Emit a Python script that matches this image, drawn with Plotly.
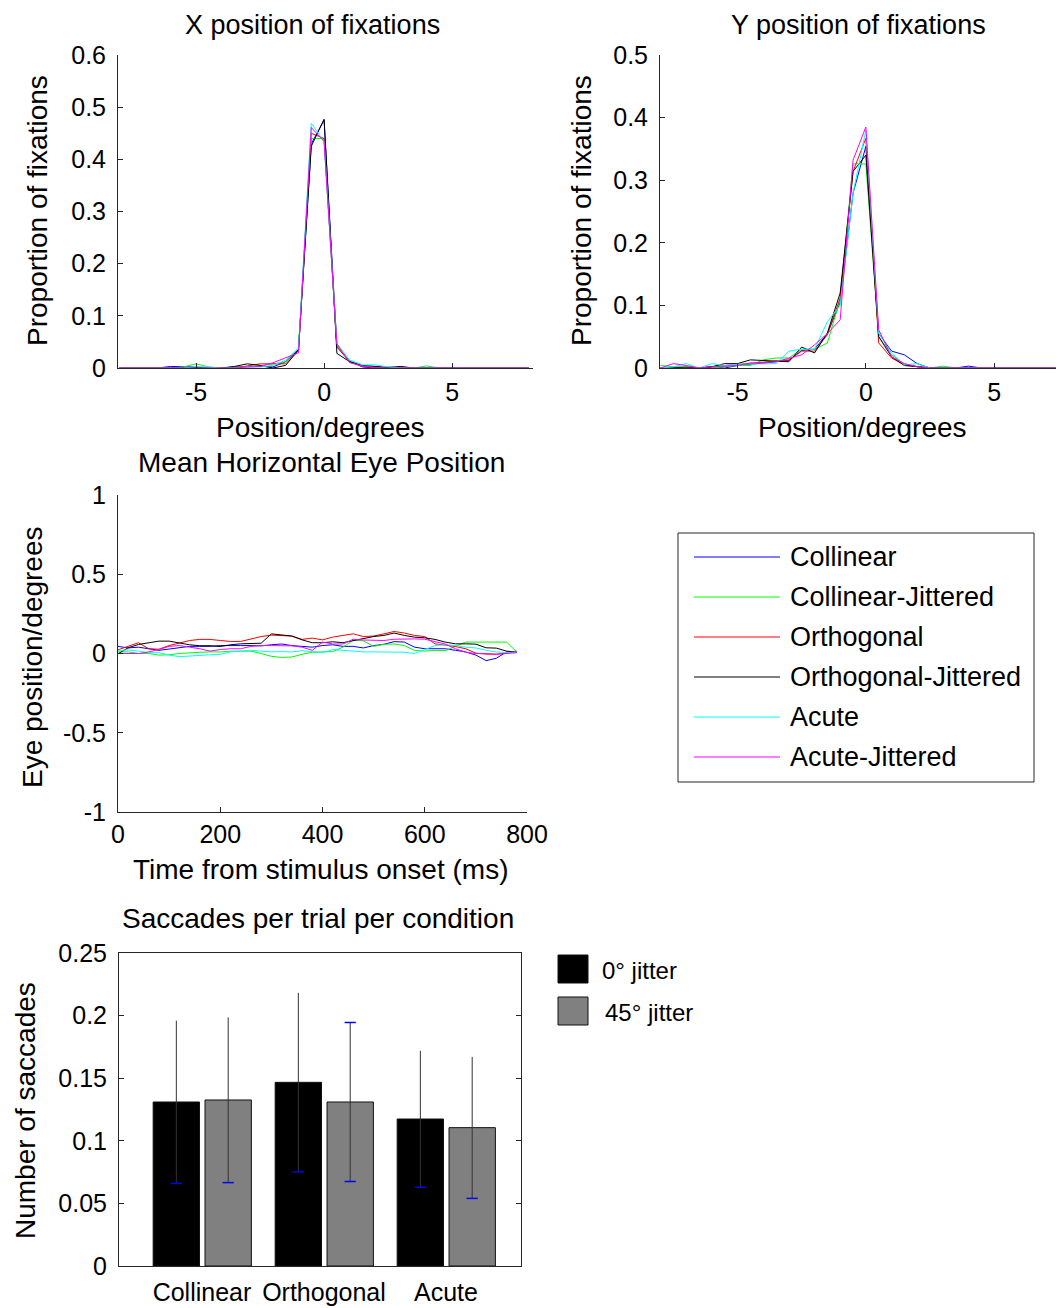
import plotly.graph_objects as go

W, H = 1064, 1308
FONT = "Liberation Sans, Arial, sans-serif"

# ---------------- data ----------------
names = ["Collinear", "Collinear-Jittered", "Orthogonal", "Orthogonal-Jittered", "Acute", "Acute-Jittered"]
colors = ["#0000FF", "#00FF00", "#FF0000", "#000000", "#00FFFF", "#FF00FF"]

pos_deg = [-8, -7.5, -7, -6.5, -6, -5.5, -5, -4.5, -4, -3.5, -3, -2.5, -2, -1.5, -1, -0.5,
           0, 0.5, 1, 1.5, 2, 2.5, 3, 3.5, 4, 4.5, 5, 5.5, 6, 6.5, 7, 7.5, 8]

xfix_collinear = [0, 0, 0, 0, 0.003, 0.003, 0.002, 0, 0, 0.002, 0.003, 0.003, 0.002, 0.012, 0.035, 0.43,
                  0.475, 0.042, 0.013, 0.002, 0, 0, 0, 0, 0, 0, 0, 0, 0, 0, 0, 0, 0]
xfix_collinear_j = [0, 0, 0, 0, 0, 0.002, 0.008, 0.002, 0, 0.002, 0.003, 0.004, 0.008, 0.012, 0.038, 0.44,
                    0.44, 0.042, 0.014, 0.005, 0.003, 0.002, 0.001, 0, 0.004, 0, 0, 0, 0, 0, 0, 0, 0]
xfix_orthogonal = [0, 0, 0, 0, 0, 0, 0, 0, 0, 0, 0.004, 0.008, 0.008, 0.008, 0.033, 0.45,
                   0.44, 0.04, 0.012, 0.003, 0.001, 0, 0, 0, 0, 0, 0, 0, 0, 0, 0, 0, 0]
xfix_orthogonal_j = [0, 0, 0, 0, 0, 0, 0, 0, 0, 0.003, 0.008, 0.005, 0, 0.005, 0.035, 0.425,
                     0.477, 0.028, 0.012, 0.005, 0.003, 0.001, 0.003, 0, 0, 0, 0, 0, 0, 0, 0, 0, 0]
xfix_acute = [0, 0, 0, 0, 0, 0, 0.003, 0.001, 0, 0, 0.002, 0.002, 0.005, 0.015, 0.038, 0.469,
              0.434, 0.047, 0.015, 0.006, 0.006, 0.002, 0, 0, 0, 0, 0, 0, 0, 0, 0, 0, 0]
xfix_acute_j = [0, 0, 0, 0, 0, 0, 0, 0, 0, 0, 0.002, 0.003, 0.01, 0.019, 0.029, 0.461,
                0.434, 0.046, 0.01, 0.004, 0.001, 0, 0, 0, 0, 0, 0, 0, 0, 0, 0, 0, 0]

yfix_collinear = [0, 0, 0.002, 0, 0.002, 0, 0.004, 0.006, 0.008, 0.009, 0.012, 0.028, 0.03, 0.055, 0.105, 0.279,
                  0.354, 0.055, 0.027, 0.021, 0.007, 0, 0, 0, 0.003, 0, 0, 0, 0, 0, 0, 0, 0]
yfix_collinear_j = [0.004, 0.002, 0.002, 0, 0, 0.002, 0.004, 0.004, 0.013, 0.016, 0.016, 0.03, 0.03, 0.04, 0.11, 0.326,
                    0.326, 0.05, 0.021, 0.006, 0.002, 0, 0.003, 0, 0, 0, 0, 0, 0, 0, 0, 0, 0]
yfix_orthogonal = [0, 0, 0, 0, 0.002, 0.004, 0.006, 0.008, 0.009, 0.012, 0.013, 0.027, 0.027, 0.053, 0.112, 0.314,
                   0.367, 0.04, 0.016, 0.005, 0.002, 0, 0, 0, 0, 0, 0, 0, 0, 0, 0, 0, 0]
yfix_orthogonal_j = [0, 0, 0, 0, 0.002, 0.007, 0.007, 0.013, 0.012, 0.011, 0.01, 0.0335, 0.024, 0.056, 0.12, 0.314,
                     0.34, 0.05, 0.018, 0.004, 0.002, 0, 0, 0, 0, 0, 0, 0, 0, 0, 0, 0, 0]
yfix_acute = [0, 0.002, 0.007, 0, 0.007, 0.004, 0.006, 0.006, 0.007, 0.007, 0.027, 0.03, 0.03, 0.074, 0.1, 0.279,
              0.38, 0.055, 0.024, 0.005, 0.007, 0, 0, 0, 0, 0, 0, 0, 0, 0, 0, 0, 0]
yfix_acute_j = [0, 0.007, 0.004, 0, 0.002, 0.003, 0.004, 0.008, 0.008, 0.01, 0.015, 0.021, 0.037, 0.055, 0.077, 0.332,
                0.385, 0.061, 0.018, 0.007, 0.002, 0, 0, 0, 0, 0, 0, 0, 0, 0, 0, 0, 0]

time_ms = [0, 20, 40, 60, 80, 100, 120, 140, 160, 180, 200, 220, 240, 260, 280, 300, 320, 340, 360, 380,
           400, 420, 440, 460, 480, 500, 520, 540, 560, 580, 600, 620, 640, 660, 680, 700, 720, 740, 760, 780]

eye_collinear = [0.045, 0.035, 0.04, 0.03, 0.02, 0.028, 0.038, 0.045, 0.045, 0.045, 0.05, 0.052, 0.05, 0.05, 0.048,
                 0.055, 0.06, 0.05, 0.045, 0.04, 0.05, 0.055, 0.045, 0.045, 0.035, 0.05, 0.058, 0.075, 0.072, 0.04,
                 0.03, 0.03, 0.03, 0.02, 0.01, -0.01, -0.045, -0.03, 0.01, 0.01]
eye_collinear_j = [0.01, 0.01, 0.0, 0.0, -0.01, -0.008, 0.0, 0.005, 0.008, 0.01, 0.01, 0.015, 0.015, 0.015, 0.0,
                   -0.018, -0.025, -0.022, -0.005, 0.008, 0.01, 0.012, 0.04, 0.085, 0.08, 0.045, 0.058, 0.06, 0.05,
                   0.02, 0.015, 0.02, 0.018, 0.045, 0.072, 0.072, 0.072, 0.072, 0.072, 0.01]
eye_orthogonal = [0.023, 0.044, 0.068, 0.03, 0.027, 0.05, 0.065, 0.082, 0.089, 0.089, 0.082, 0.076, 0.076, 0.09,
                  0.107, 0.116, 0.114, 0.11, 0.089, 0.097, 0.086, 0.103, 0.114, 0.124, 0.107, 0.11, 0.124, 0.139,
                  0.129, 0.114, 0.107, 0.061, 0.053, 0.044, 0.03, 0.002, -0.004, -0.004, 0.002, 0.015]
eye_orthogonal_j = [-0.002, 0.036, 0.057, 0.068, 0.078, 0.078, 0.065, 0.055, 0.049, 0.049, 0.044, 0.055, 0.061,
                    0.065, 0.065, 0.124, 0.118, 0.11, 0.086, 0.068, 0.068, 0.074, 0.068, 0.082, 0.097, 0.107, 0.114,
                    0.129, 0.114, 0.103, 0.099, 0.089, 0.072, 0.061, 0.061, 0.059, 0.036, 0.034, 0.015, 0.008]
eye_acute = [0.02, 0.022, 0.015, 0.005, 0.005, -0.01, -0.02, -0.015, -0.01, -0.008, -0.005, 0.01, 0.015, 0.02,
             0.015, 0.01, 0.012, 0.01, 0.018, 0.01, 0.005, 0.025, 0.02, 0.015, 0.01, 0.01, 0.008, 0.008, 0.008,
             0.0, 0.025, 0.05, 0.055, 0.05, 0.04, 0.035, 0.02, 0.01, 0.005, 0.01]
eye_acute_j = [0.0, 0.0, 0.0, 0.01, 0.025, 0.045, 0.05, 0.04, 0.03, 0.015, 0.025, 0.03, 0.03, 0.045, 0.05, 0.05,
               0.05, 0.048, 0.04, 0.02, 0.072, 0.06, 0.06, 0.09, 0.085, 0.082, 0.082, 0.09, 0.092, 0.092, 0.09,
               0.075, 0.06, 0.03, 0.008, 0.0, 0.0, -0.005, 0.0, 0.005]

xfix = [xfix_collinear, xfix_collinear_j, xfix_orthogonal, xfix_orthogonal_j, xfix_acute, xfix_acute_j]
yfix = [yfix_collinear, yfix_collinear_j, yfix_orthogonal, yfix_orthogonal_j, yfix_acute, yfix_acute_j]
eye = [eye_collinear, eye_collinear_j, eye_orthogonal, eye_orthogonal_j, eye_acute, eye_acute_j]

bar_categories = ["Collinear", "Orthogonal", "Acute"]
bar_pos = [1, 2, 3]
sacc_0_jitter = [0.131, 0.1467, 0.1174]
sacc_0_err = [0.065, 0.0715, 0.0545]
sacc_45_jitter = [0.1326, 0.131, 0.1105]
sacc_45_err = [0.066, 0.0635, 0.0565]
bar_legend = ["0° jitter", "45° jitter"]
bar_colors = ["#000000", "#808080"]

# ---------------- helpers ----------------
# the page body adds an 8px offset; layout positions below are given in reference pixels
OFF = 8

def px(x):
    return (x - OFF) / W

def py(y):
    return 1 - (y - OFF) / H

TICK = 25

def axstyle(**kw):
    d = dict(showgrid=False, zeroline=False, showline=True, linecolor="#262626", linewidth=1,
             ticks="inside", ticklen=5, tickcolor="#262626", tickwidth=1, automargin=False,
             tickfont=dict(size=TICK, color="black", family=FONT))
    d.update(kw)
    return d

fig = go.Figure()

for i in range(6):
    fig.add_trace(go.Scatter(x=pos_deg, y=xfix[i], mode="lines", line=dict(color=colors[i], width=1),
                             name=names[i], showlegend=False, xaxis="x", yaxis="y"))
for i in range(6):
    fig.add_trace(go.Scatter(x=pos_deg, y=yfix[i], mode="lines", line=dict(color=colors[i], width=1),
                             name=names[i], showlegend=False, xaxis="x2", yaxis="y2"))
for i in range(6):
    fig.add_trace(go.Scatter(x=time_ms, y=eye[i], mode="lines", line=dict(color=colors[i], width=1),
                             name=names[i], showlegend=False, xaxis="x3", yaxis="y3"))

BW = 0.38
offsets = [-0.40, 0.025]
means = [sacc_0_jitter, sacc_45_jitter]
errs = [sacc_0_err, sacc_45_err]
for k in range(2):
    fig.add_trace(go.Bar(x=bar_pos, y=means[k], width=BW, offset=offsets[k], name=bar_legend[k],
                         marker=dict(color=bar_colors[k], line=dict(color="#111111", width=1)),
                         error_y=dict(type="data", array=errs[k], color="#333333", thickness=1, width=0),
                         showlegend=False, xaxis="x4", yaxis="y4"))
# blue caps of the error bars
top_cap = [[False, False, False], [False, True, False]]
for k in range(2):
    cx = [p + offsets[k] + BW / 2 for p in bar_pos]
    lo = [m - e for m, e in zip(means[k], errs[k])]
    fig.add_trace(go.Scatter(x=cx, y=lo, mode="markers",
                             marker=dict(symbol="line-ew", size=8, line=dict(color="#0000FF", width=1.5)),
                             showlegend=False, hoverinfo="skip", xaxis="x4", yaxis="y4"))
    hx = [c for c, t in zip(cx, top_cap[k]) if t]
    hy = [m + e for m, e, t in zip(means[k], errs[k], top_cap[k]) if t]
    if hx:
        fig.add_trace(go.Scatter(x=hx, y=hy, mode="markers",
                                 marker=dict(symbol="line-ew", size=8, line=dict(color="#0000FF", width=1.5)),
                                 showlegend=False, hoverinfo="skip", xaxis="x4", yaxis="y4"))

deg_ticks = [-5, 0, 5]
deg_text = ["-5", "0", "5"]

fig.update_layout(
    width=W, height=H, autosize=False, margin=dict(l=0, r=0, t=0, b=0, pad=0, autoexpand=False),
    paper_bgcolor="white", plot_bgcolor="white", showlegend=False,
    font=dict(family=FONT, color="black"),
    xaxis=axstyle(domain=[px(118), px(533)], range=[-8.05, 8.16], tickvals=deg_ticks, ticktext=deg_text,
                  anchor="y", ticklabelstandoff=2),
    yaxis=axstyle(domain=[py(368), py(55)], range=[0, 0.6], tickvals=[0, 0.1, 0.2, 0.3, 0.4, 0.5, 0.6],
                  ticktext=["0", "0.1", "0.2", "0.3", "0.4", "0.5", "0.6"], anchor="x", ticklabelstandoff=6),
    xaxis2=axstyle(domain=[px(660), 1.0], range=[-8.02, 8.03], tickvals=deg_ticks, ticktext=deg_text,
                   anchor="y2", ticklabelstandoff=2),
    yaxis2=axstyle(domain=[py(368), py(55)], range=[0, 0.5], tickvals=[0, 0.1, 0.2, 0.3, 0.4, 0.5],
                   ticktext=["0", "0.1", "0.2", "0.3", "0.4", "0.5"], anchor="x2", ticklabelstandoff=6),
    xaxis3=axstyle(domain=[px(118), px(527)], range=[0, 800], tickvals=[0, 200, 400, 600, 800],
                   anchor="y3", ticklabelstandoff=0),
    yaxis3=axstyle(domain=[py(812), py(495)], range=[-1, 1], tickvals=[-1, -0.5, 0, 0.5, 1],
                   ticktext=["-1", "-0.5", "0", "0.5", "1"], anchor="x3", ticklabelstandoff=6),
    xaxis4=axstyle(domain=[px(119), px(521)], range=[0.32, 3.615], tickvals=bar_pos, ticktext=bar_categories,
                   ticks="", mirror=True, anchor="y4", ticklabelstandoff=4,
                   tickfont=dict(size=25, color="black", family=FONT)),
    xaxis5=dict(overlaying="x4", side="top", anchor="y4", range=[0.32, 3.615], tickmode="linear",
                tick0=0.779, dtick=0.4725, ticks="inside", ticklen=5, tickcolor="#262626", automargin=False,
                showticklabels=False, showline=False, showgrid=False, zeroline=False),
    yaxis4=axstyle(domain=[py(1266), py(953)], range=[0, 0.25], tickvals=[0, 0.05, 0.1, 0.15, 0.2, 0.25],
                   ticktext=["0", "0.05", "0.1", "0.15", "0.2", "0.25"], mirror="ticks", anchor="x4",
                   ticklabelstandoff=6, tickfont=dict(size=25, color="black", family=FONT)),
)

ann = []
TF = 28

def label(text, x, y, size=TF, angle=0, xanchor="center"):
    ann.append(dict(text=text, x=px(x), y=py(y), xref="paper", yref="paper", showarrow=False,
                    textangle=angle, xanchor=xanchor, yanchor="middle",
                    font=dict(size=size, color="black", family=FONT)))

label("X position of fixations", 312, 25, size=27)
label("Y position of fixations", 858, 25, size=27)
label("Proportion of fixations", 38, 211, angle=-90)
label("Proportion of fixations", 582, 211, angle=-90)
label("Position/degrees", 320, 427)
label("Position/degrees", 862, 427)
label("Mean Horizontal Eye Position", 321, 463)
label("Eye position/degrees", 32, 657, angle=-90)
label("Time from stimulus onset (ms)", 320, 869)
label("Saccades per trial per condition", 318, 919)
label("Number of saccades", 25, 1111, angle=-90)

# legend for line charts
shapes = [dict(type="rect", xref="paper", yref="paper", x0=px(678), x1=px(1034), y0=py(782), y1=py(533),
               line=dict(color="#262626", width=1), fillcolor="white")]
for i in range(6):
    yy = 557 + 40 * i
    shapes.append(dict(type="line", xref="paper", yref="paper", x0=px(694), x1=px(780), y0=py(yy), y1=py(yy),
                       line=dict(color=colors[i], width=1)))
    label(names[i], 788, yy, size=27, xanchor="left")

# legend for bar chart
for k in range(2):
    y0 = 955 + 42 * k
    shapes.append(dict(type="rect", xref="paper", yref="paper", x0=px(558), x1=px(588), y0=py(y0 + 28), y1=py(y0),
                       line=dict(color="#111111", width=1), fillcolor=bar_colors[k]))
    label(bar_legend[k], 600 + 3 * k, y0 + 15, size=24, xanchor="left")

fig.update_layout(annotations=ann, shapes=shapes)
fig.write_html("out.html")
